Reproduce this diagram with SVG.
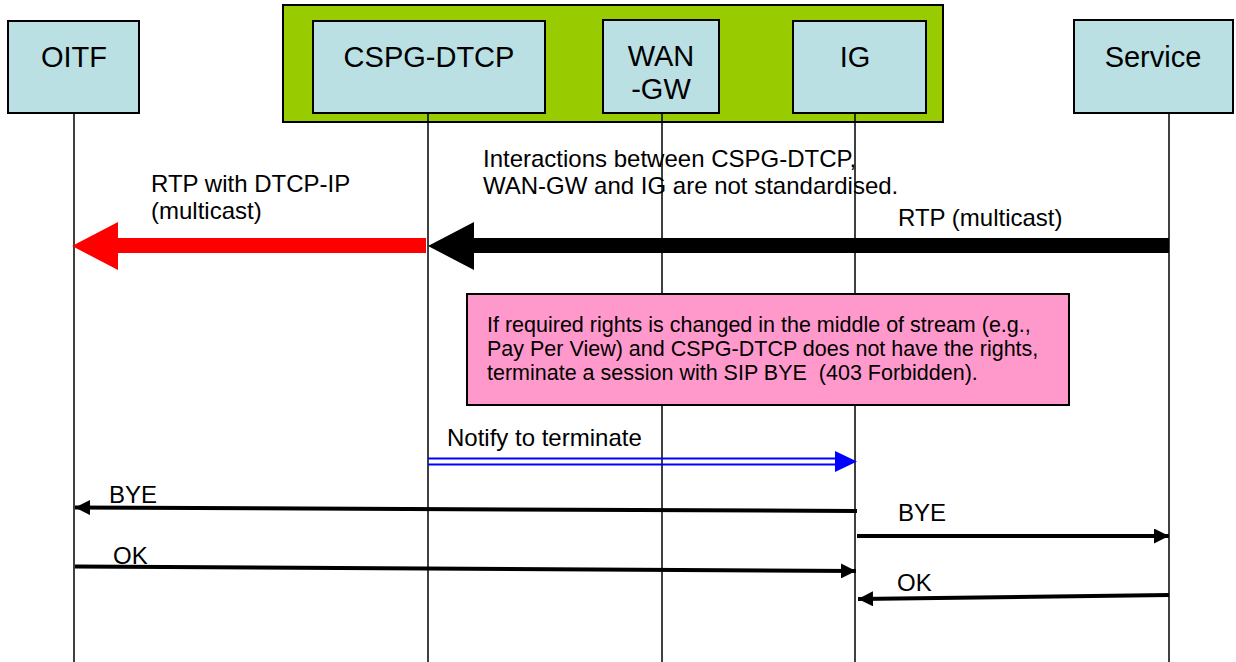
<svg xmlns="http://www.w3.org/2000/svg" width="1236" height="662" viewBox="0 0 1236 662">
<style>
.box{fill:#BAE0E3;stroke:#000;stroke-width:2}
.t{font-family:"Liberation Sans",Arial,sans-serif;fill:#000}
.big{font-size:29px;text-anchor:middle}
.lbl{font-size:24px}
.note{font-size:21.5px}
.life{stroke:#000;stroke-width:1.5;fill:none}
.msg{stroke:#000;stroke-width:4;fill:none}
</style>
<defs>
<marker id="ah" viewBox="0 0 10 10" refX="10" refY="5" markerWidth="3.75" markerHeight="3.75" orient="auto" markerUnits="strokeWidth">
<path d="M0,0 L10,5 L0,10 z" fill="#000"/>
</marker>
</defs>
<rect width="1236" height="662" fill="#fff"/>
<g id="group-box">
<rect x="283" y="5" width="660" height="117" fill="#99CC00" stroke="#000" stroke-width="2"/>
</g>
<g id="lifelines">
<line class="life" x1="74" y1="113" x2="74" y2="662"/>
<line class="life" x1="428" y1="113" x2="428" y2="662"/>
<line class="life" x1="662" y1="113" x2="662" y2="662"/>
<line class="life" x1="855" y1="113" x2="855" y2="662"/>
<line class="life" x1="1169" y1="113" x2="1169" y2="662"/>
</g>
<g id="node-oitf">
<rect class="box" x="8" y="21" width="131" height="92"/>
<text class="t big" x="74" y="67">OITF</text>
</g>
<g id="node-cspg">
<rect class="box" x="313" y="21" width="232" height="92"/>
<text class="t big" x="429" y="67">CSPG-DTCP</text>
</g>
<g id="node-wangw">
<rect class="box" x="603" y="20" width="116" height="93"/>
<text class="t big" x="661" y="66">WAN</text>
<text class="t big" x="661" y="99">-GW</text>
</g>
<g id="node-ig">
<rect class="box" x="793" y="21" width="133" height="92"/>
<text class="t big" x="855" y="67">IG</text>
</g>
<g id="node-service">
<rect class="box" x="1074" y="20" width="159" height="93"/>
<text class="t big" x="1153" y="67">Service</text>
</g>
<g id="note-pink">
<rect x="467" y="294" width="602" height="111" fill="#FF99CC" stroke="#000" stroke-width="2"/>
<text class="t note" x="487" y="332">If required rights is changed in the middle of stream (e.g.,</text>
<text class="t note" x="487" y="356">Pay Per View) and CSPG-DTCP does not have the rights,</text>
<text class="t note" x="487" y="380" xml:space="preserve">terminate a session with SIP BYE  (403 Forbidden).</text>
</g>
<g id="connectors">
<polygon points="426,238 118,238 118,222 72,246 118,270 118,253 426,253" fill="#FF0000"/>
<polygon points="1169,238 474,238 474,222 428,246 474,270 474,253 1169,253" fill="#000"/>
<line x1="428" y1="458.5" x2="838" y2="458.5" stroke="#0000FF" stroke-width="2"/>
<line x1="428" y1="464.5" x2="838" y2="464.5" stroke="#0000FF" stroke-width="2"/>
<polygon points="835,451 857,461.5 835,472" fill="#0000FF"/>
<line class="msg" x1="857" y1="511" x2="75" y2="507.5" marker-end="url(#ah)"/>
<line class="msg" x1="857" y1="536" x2="1169" y2="536" marker-end="url(#ah)"/>
<line class="msg" x1="75" y1="566.5" x2="856" y2="571" marker-end="url(#ah)"/>
<line class="msg" x1="1169" y1="595" x2="858" y2="599" marker-end="url(#ah)"/>
</g>
<g id="labels">
<text class="t lbl" x="483" y="167">Interactions between CSPG-DTCP,</text>
<text class="t lbl" x="483" y="194">WAN-GW and IG are not standardised.</text>
<text class="t lbl" x="151" y="192">RTP with DTCP-IP</text>
<text class="t lbl" x="151" y="219">(multicast)</text>
<text class="t lbl" x="898" y="226">RTP (multicast)</text>
<text class="t lbl" x="447" y="446">Notify to terminate</text>
<text class="t lbl" x="109" y="503">BYE</text>
<text class="t lbl" x="898" y="521">BYE</text>
<text class="t lbl" x="113" y="564">OK</text>
<text class="t lbl" x="897" y="591">OK</text>
</g>
</svg>
